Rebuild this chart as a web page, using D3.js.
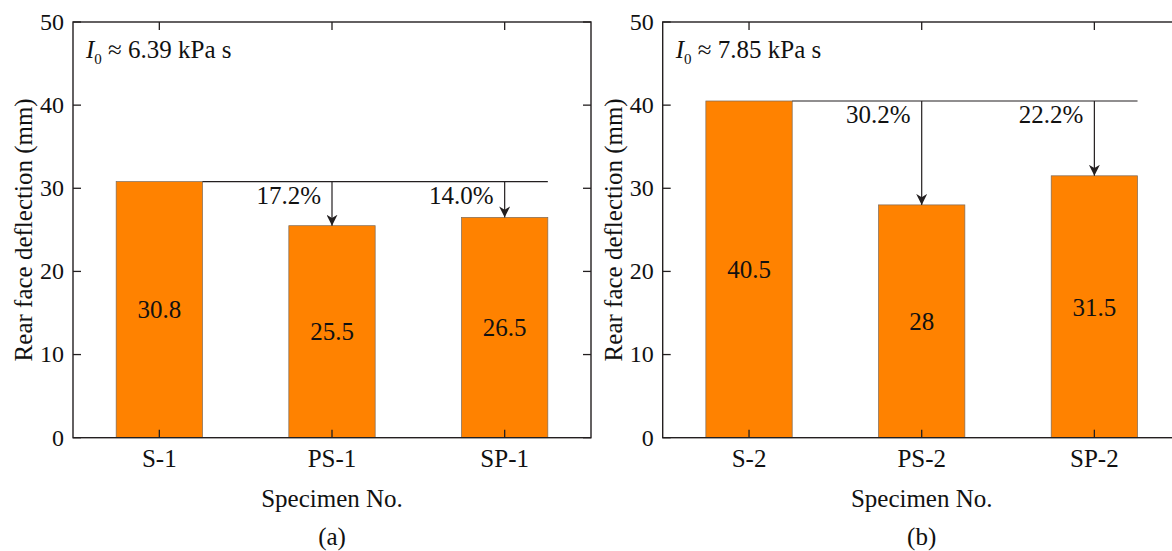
<!DOCTYPE html>
<html><head><meta charset="utf-8">
<script src="https://cdn.jsdelivr.net/npm/d3@7"></script>
<style>body{margin:0;background:#fff}svg{display:block}svg text{font-family:"Liberation Serif","Times New Roman",serif;}</style>
</head><body>
<svg id="chart" width="1172" height="551"></svg>
<script>
const categoriesA = ["S-1", "PS-1", "SP-1"];
const valuesA = [30.8, 25.5, 26.5];
const labelsA = ["30.8", "25.5", "26.5"];
const reductionsA = ["17.2%", "14.0%"];
const impulseA = "6.39";

const categoriesB = ["S-2", "PS-2", "SP-2"];
const valuesB = [40.5, 28, 31.5];
const labelsB = ["40.5", "28", "31.5"];
const reductionsB = ["30.2%", "22.2%"];
const impulseB = "7.85";

const yTicks = [0, 10, 20, 30, 40, 50];
const yTitle = "Rear face deflection (mm)";
const xTitle = "Specimen No.";

const svg = d3.select("#chart");
const BAR = "#FF8200";
const INK = "#231f20";

svg.append("defs").append("marker")
  .attr("id", "arr").attr("viewBox", "0 0 10 10").attr("refX", 10).attr("refY", 5)
  .attr("markerWidth", 11).attr("markerHeight", 11).attr("markerUnits", "userSpaceOnUse")
  .attr("orient", "auto")
  .append("path").attr("d", "M0,0 L10,5 L0,10 L3,5 Z").attr("fill", INK);

function panel(x0, cats, vals, labels, reds, imp, tag) {
  const top = 22, bottom = 437.7, width = 518;
  const x = d3.scaleBand().domain(cats).range([x0, x0 + width]).paddingInner(0.5).paddingOuter(0.25);
  const y = d3.scaleLinear().domain([0, 50]).range([bottom, top]);
  const g = svg.append("g").attr("fill", "#111");

  g.selectAll("rect.bar").data(vals).enter().append("rect")
    .attr("x", (d, i) => x(cats[i])).attr("width", x.bandwidth())
    .attr("y", d => y(d)).attr("height", d => y(0) - y(d))
    .attr("fill", BAR).attr("stroke", "#7a6a5a").attr("stroke-width", 0.7);

  g.selectAll("text.val").data(vals).enter().append("text")
    .attr("x", (d, i) => x(cats[i]) + x.bandwidth() / 2)
    .attr("y", d => y(d / 2)).attr("dy", "0.35em")
    .attr("text-anchor", "middle").attr("font-size", 25)
    .text((d, i) => labels[i]);

  const ref = vals[0];
  g.append("line")
    .attr("x1", x(cats[0]) + x.bandwidth()).attr("x2", x(cats[2]) + x.bandwidth())
    .attr("y1", y(ref)).attr("y2", y(ref)).attr("stroke", INK).attr("stroke-width", 1.2);
  [1, 2].forEach((k, j) => {
    const cx = x(cats[k]) + x.bandwidth() / 2;
    g.append("line").attr("x1", cx).attr("x2", cx).attr("y1", y(ref)).attr("y2", y(vals[k]))
      .attr("stroke", INK).attr("stroke-width", 1.2).attr("marker-end", "url(#arr)");
    g.append("text").attr("x", cx - 11).attr("y", y(ref) + 22)
      .attr("text-anchor", "end").attr("font-size", 25)
      .text(reds[j]);
  });

  g.append("rect").attr("x", x0).attr("y", top).attr("width", width).attr("height", bottom - top)
    .attr("fill", "none").attr("stroke", INK).attr("stroke-width", 1.4);

  yTicks.forEach(t => {
    g.append("line").attr("x1", x0).attr("x2", x0 + 8).attr("y1", y(t)).attr("y2", y(t))
      .attr("stroke", INK).attr("stroke-width", 1.3);
    g.append("line").attr("x1", x0 + width - 8).attr("x2", x0 + width).attr("y1", y(t)).attr("y2", y(t))
      .attr("stroke", INK).attr("stroke-width", 1.3);
    g.append("text").attr("x", x0 - 9).attr("y", y(t)).attr("dy", "0.33em")
      .attr("text-anchor", "end").attr("font-size", 24)
      .text(t);
  });

  cats.forEach(c => {
    const cx = x(c) + x.bandwidth() / 2;
    g.append("line").attr("x1", cx).attr("x2", cx).attr("y1", bottom).attr("y2", bottom - 8)
      .attr("stroke", INK).attr("stroke-width", 1.3);
    g.append("line").attr("x1", cx).attr("x2", cx).attr("y1", top).attr("y2", top + 8)
      .attr("stroke", INK).attr("stroke-width", 1.3);
    g.append("text").attr("x", cx).attr("y", 467)
      .attr("text-anchor", "middle").attr("font-size", 25)
      .text(c);
  });

  g.append("text").attr("transform", `translate(${x0 - 41},${(top + bottom) / 2}) rotate(-90)`)
    .attr("text-anchor", "middle").attr("font-size", 25)
    .text(yTitle);
  g.append("text").attr("x", x0 + width / 2).attr("y", 507)
    .attr("text-anchor", "middle").attr("font-size", 25)
    .text(xTitle);
  g.append("text").attr("x", x0 + width / 2).attr("y", 545)
    .attr("text-anchor", "middle").attr("font-size", 25)
    .text(tag);

  const t = g.append("text").attr("x", x0 + 13).attr("y", 58).attr("font-size", 25);
  t.append("tspan").attr("font-style", "italic").text("I");
  t.append("tspan").attr("font-size", 15).attr("dy", 6).text("0");
  t.append("tspan").attr("dy", -6).text(" \u2248 " + imp + " kPa s");
}

panel(73, categoriesA, valuesA, labelsA, reductionsA, impulseA, "(a)");
panel(662.7, categoriesB, valuesB, labelsB, reductionsB, impulseB, "(b)");
</script>
</body></html>
